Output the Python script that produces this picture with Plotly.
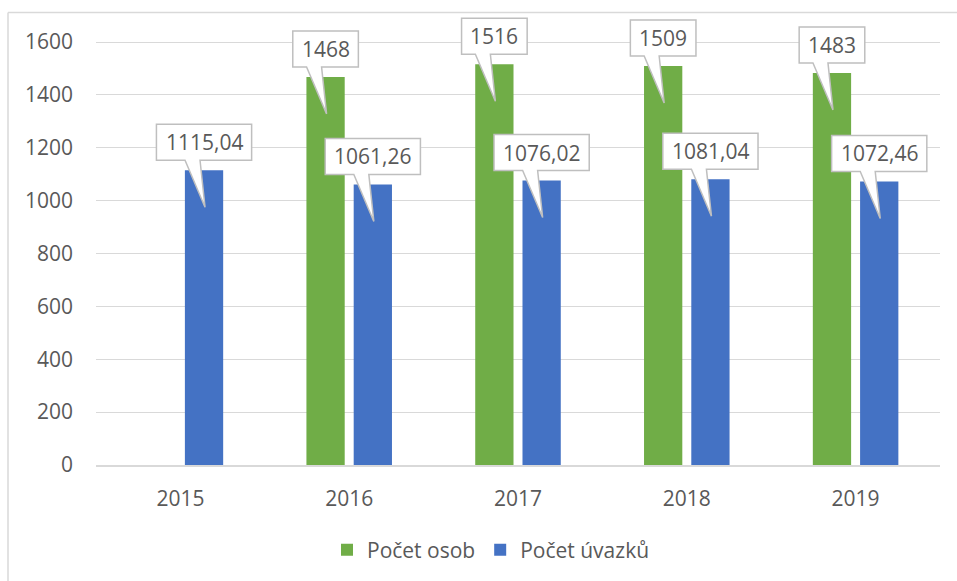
import plotly.graph_objects as go

years = ["2015", "2016", "2017", "2018", "2019"]
pocet_osob = [None, 1468, 1516, 1509, 1483]
pocet_uvazku = [1115.04, 1061.26, 1076.02, 1081.04, 1072.46]
osob_labels = [None, "1468", "1516", "1509", "1483"]
uvazku_labels = ["1115,04", "1061,26", "1076,02", "1081,04", "1072,46"]
y_ticks = [0, 200, 400, 600, 800, 1000, 1200, 1400, 1600]

GREEN = "#70AD47"
BLUE = "#4472C4"
TXT = "#595959"
GRID = "#D9D9D9"
FONT = "Open Sans"
FS = 21

W, H = 957, 581
# axis 0 at pixel 465, 1600 at pixel 42
PX_PER_UNIT = 423 / 1600
ML, MR, MT, MB = 96, 17, 4, 116
ph = H - MT - MB
pw = W - ML - MR
YMAX = ph / PX_PER_UNIT
BARGAP = 0.44
GROUPGAP = 0.19

xs = list(range(len(years)))
fig = go.Figure()
fig.add_trace(go.Bar(x=xs, y=pocet_osob, name="Počet osob", marker_color=GREEN,
                     marker_line_width=0))
fig.add_trace(go.Bar(x=xs, y=pocet_uvazku, name="Počet úvazků", marker_color=BLUE,
                     marker_line_width=0))

slot = (1 - BARGAP) / 2
offset = slot / 2

shapes = []
annotations = []


def callout(xc, yv, label):
    ndig = sum(c.isdigit() for c in label)
    ncom = label.count(",")
    tw = 11.9 * ndig + 5.8 * ncom
    hw = (tw + 18) / 2
    yb, yt = 10, 46
    path = (f"M {-hw},{yb} L -19,{yb} L 1,-37 L -4,{yb} L {hw},{yb} "
            f"L {hw},{yt} L {-hw},{yt} Z")
    shapes.append(dict(type="path", xref="x", yref="y", xsizemode="pixel",
                       ysizemode="pixel", xanchor=xc, yanchor=yv, path=path,
                       fillcolor="white", line=dict(color="#BFBFBF", width=1.5),
                       layer="above"))
    annotations.append(dict(x=xc, y=yv, xref="x", yref="y", text=label,
                            showarrow=False, yshift=(yb + yt) / 2,
                            font=dict(family=FONT, size=FS, color=TXT)))


for i in xs:
    if pocet_osob[i] is not None:
        callout(i - offset, pocet_osob[i], osob_labels[i])
    callout(i + offset, pocet_uvazku[i], uvazku_labels[i])

# outer chart frame (left and top edges visible)
fx0 = (8 - ML) / pw
fy1 = 1 + (MT - 12.5) / ph
shapes.append(dict(type="line", xref="paper", yref="paper", x0=fx0, x1=fx0,
                   y0=-2, y1=fy1, line=dict(color=GRID, width=1.5), layer="below"))
shapes.append(dict(type="line", xref="paper", yref="paper", x0=fx0, x1=2,
                   y0=fy1, y1=fy1, line=dict(color=GRID, width=1.5), layer="below"))

fig.update_layout(
    width=W, height=H,
    margin=dict(l=ML, r=MR, t=MT, b=MB),
    paper_bgcolor="white", plot_bgcolor="white",
    barmode="group", bargap=BARGAP, bargroupgap=GROUPGAP,
    font=dict(family=FONT, size=FS, color=TXT),
    shapes=shapes, annotations=annotations,
    showlegend=True,
    legend=dict(orientation="h", x=(327 - ML) / pw, xanchor="left",
                y=(MT + ph - 550) / ph, yanchor="middle",
                font=dict(family=FONT, size=FS, color=TXT),
                bgcolor="rgba(0,0,0,0)"),
)
fig.update_xaxes(range=[-0.5, len(years) - 0.5], tickvals=xs, ticktext=years,
                 showgrid=False, zeroline=False, showline=True, linecolor=GRID,
                 linewidth=1.5, ticks="", ticklabelstandoff=14,
                 tickfont=dict(family=FONT, size=FS, color=TXT), fixedrange=True)
fig.update_yaxes(range=[0, YMAX], tickvals=y_ticks, showgrid=True, gridcolor=GRID,
                 gridwidth=1.2, zeroline=False, showline=False, ticks="",
                 ticklabelstandoff=22,
                 tickfont=dict(family=FONT, size=FS, color=TXT), fixedrange=True)

fig.write_html("out.html", config={"displayModeBar": False},
               post_script="document.body.style.margin='0';")
